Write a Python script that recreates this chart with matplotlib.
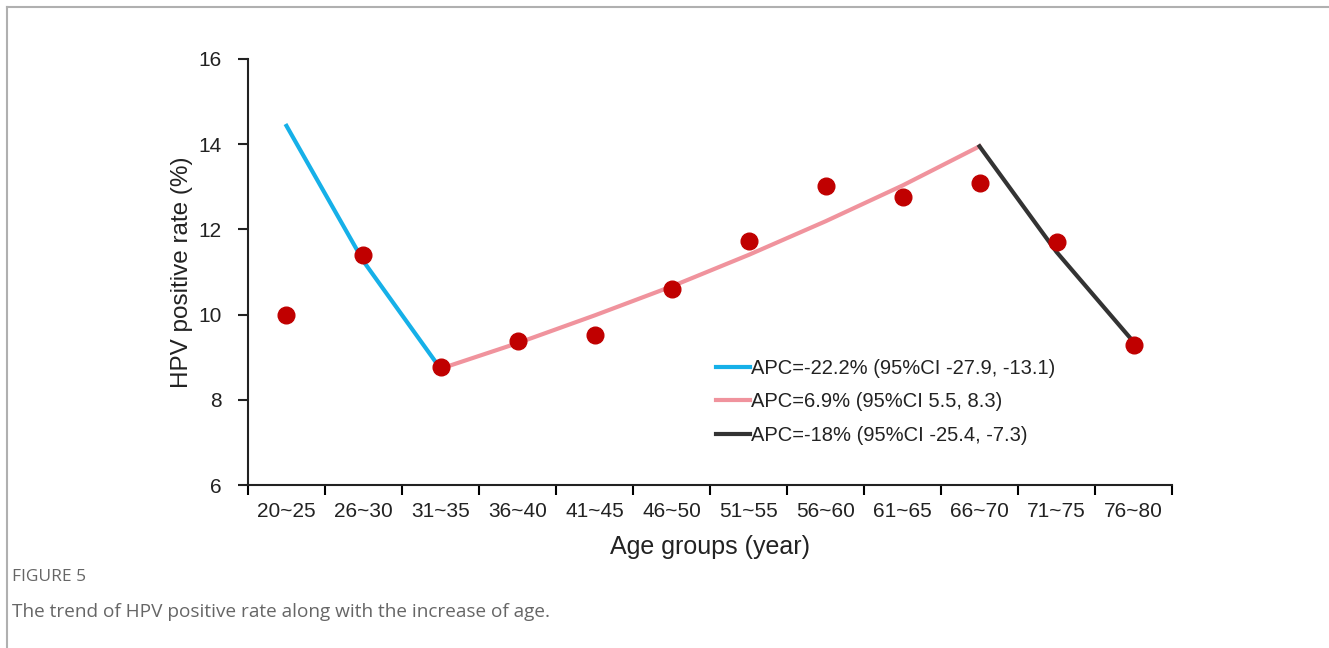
import numpy as np
import matplotlib.pyplot as plt
from matplotlib.lines import Line2D

plt.rcParams['font.family'] = ['Liberation Sans', 'DejaVu Sans']

# Data
age_groups = ['20~25', '26~30', '31~35', '36~40', '41~45', '46~50',
              '51~55', '56~60', '61~65', '66~70', '71~75', '76~80']
observed = [9.99, 11.40, 8.78, 9.37, 9.51, 10.60,
            11.72, 13.01, 12.77, 13.10, 11.70, 9.28]

# fitted joinpoint segments (index of age group, fitted rate)
seg1_idx = [0, 1, 2]
seg1_fit = [14.43, 11.25, 8.73]
seg2_idx = [2, 3, 4, 5, 6, 7, 8, 9]
seg2_fit = [8.73, 9.33, 9.98, 10.66, 11.40, 12.19, 13.03, 13.95]
seg3_idx = [9, 10, 11]
seg3_fit = [13.95, 11.47, 9.36]

seg_labels = ['APC=-22.2% (95%CI -27.9, -13.1)',
              'APC=6.9% (95%CI 5.5, 8.3)',
              'APC=-18% (95%CI -25.4, -7.3)']
seg_colors = ['#16b0e8', '#f0939d', '#333333']

fig = plt.figure(figsize=(13.29, 6.48), dpi=100)
ax = fig.add_axes([0.1866, 0.2515, 0.6953, 0.6575])

x = np.arange(len(age_groups))
for idx, fit, c, lab in zip([seg1_idx, seg2_idx, seg3_idx],
                            [seg1_fit, seg2_fit, seg3_fit],
                            seg_colors, seg_labels):
    ax.plot(idx, fit, color=c, lw=3, label=lab, zorder=2)
ax.plot(x, observed, 'o', color='#c00000', ms=12, mec='#c00000', zorder=3)

ax.set_xlim(-0.5, len(age_groups) - 0.5)
ax.set_ylim(6, 16)
ax.set_yticks([6, 8, 10, 12, 14, 16])
ax.set_xticks(np.arange(len(age_groups) + 1) - 0.5)
ax.set_xticklabels([])
ax.set_xticks(x, minor=True)
ax.set_xticklabels(age_groups, minor=True)
ax.tick_params(axis='x', which='major', length=7, width=1.5, direction='out')
ax.tick_params(axis='x', which='minor', length=0, labelsize=15, pad=12,
               colors='#222222')
ax.tick_params(axis='y', length=7, width=1.5, labelsize=15, pad=12,
               colors='#222222')
for s in ['top', 'right']:
    ax.spines[s].set_visible(False)
for s in ['left', 'bottom']:
    ax.spines[s].set_linewidth(1.5)
    ax.spines[s].set_color('#222222')

ax.set_xlabel('Age groups (year)', fontsize=18, color='#222222', labelpad=10)
ax.set_ylabel('HPV positive rate (%)', fontsize=17.5, color='#222222', labelpad=4)

handles = [Line2D([], [], color=c, lw=3) for c in seg_colors]
ax.legend(handles, seg_labels, loc='center left', bbox_to_anchor=(0.487, 0.195),
          frameon=False, fontsize=14.5, handlelength=1.7, handletextpad=0.05,
          labelspacing=0.72, labelcolor='#222222')

# page frame and caption
fig.add_artist(Line2D([7/1329, 1], [1 - 7/648, 1 - 7/648], color='#b0b0b0', lw=1.5))
fig.add_artist(Line2D([7/1329, 7/1329], [0, 1 - 7/648], color='#b0b0b0', lw=1.5))
fig.text(12/1329, 1 - 577/648, 'FIGURE 5', fontsize=12.5, color='#666666',
         family=['Open Sans', 'DejaVu Sans'], weight='medium', va='center')
fig.text(12/1329, 1 - 612/648,
         'The trend of HPV positive rate along with the increase of age.',
         fontsize=13.7, color='#666666', family=['Open Sans', 'DejaVu Sans'],
         va='center')

fig.savefig('out.png', dpi=100)
